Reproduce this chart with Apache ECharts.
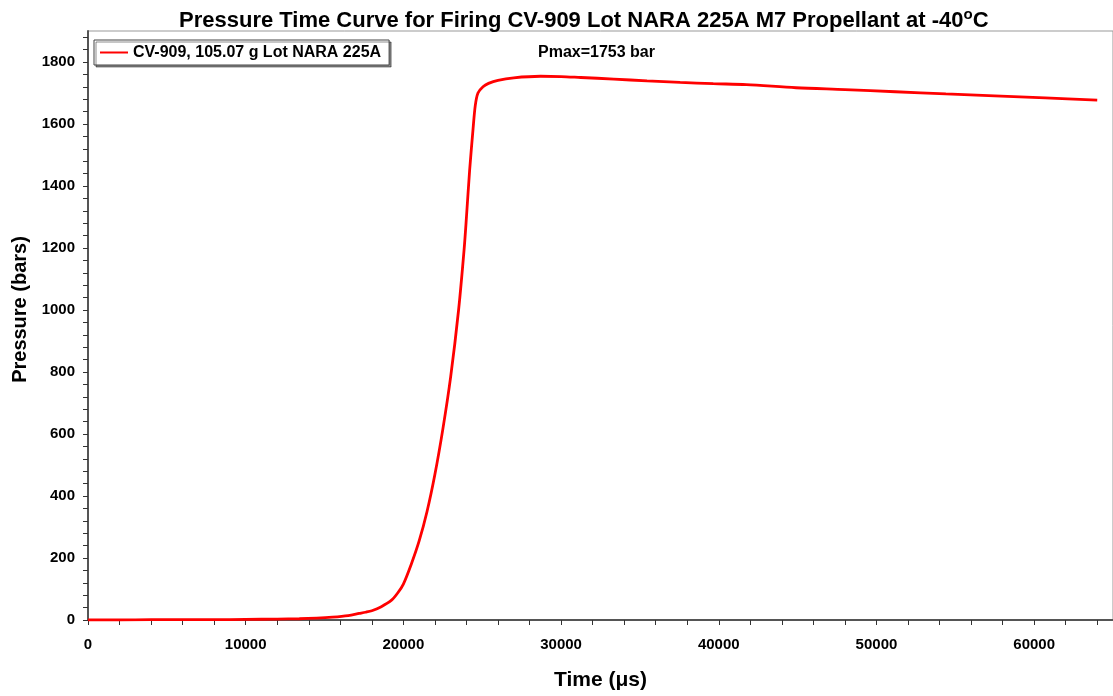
<!DOCTYPE html>
<html>
<head>
<meta charset="utf-8">
<script src="https://cdn.jsdelivr.net/npm/echarts@6/dist/echarts.min.js"></script>
<style>
html,body{margin:0;padding:0;background:#fff;}
#main{width:1113px;height:696px;}
</style>
</head>
<body>
<div id="main"></div>
<script>
// Data
var timeUs = [0, 2000, 4000, 6000, 8000, 10000, 12000, 13400, 14500, 15500, 16500, 17200, 17600, 18000, 18600, 19250, 19650, 20000, 20500, 21000, 21500, 22000, 22500, 23000, 23500, 23850, 24000, 24200, 24420, 24560, 24730, 25050, 25400, 26000, 27000, 28700, 30000, 31250, 33350, 35450, 37550, 39650, 41750, 44900, 48000, 51200, 54400, 57500, 60700, 64000];
var pressureBar = [0, 0, 1, 1, 1, 2, 3, 4, 6, 9, 14, 21, 25, 30, 43, 64, 88, 116, 180, 255, 350, 470, 615, 785, 1000, 1195, 1300, 1450, 1585, 1660, 1700, 1720, 1731, 1741, 1749, 1754, 1753, 1750, 1745, 1739, 1734, 1730, 1727, 1717, 1711, 1704, 1697, 1691, 1684, 1677];
var xMajorStep = 10000;
var yMajorStep = 200;
var seriesName = 'CV-909, 105.07 g Lot NARA 225A';
var annotationText = 'Pmax=1753 bar';

var pts = timeUs.map(function (t, i) { return [t, pressureBar[i]]; });
var chart = echarts.init(document.getElementById('main'));
var FONT = 'Liberation Sans, Arial, sans-serif';
chart.setOption({
  animation: false,
  backgroundColor: '#fff',
  title: {
    text: 'Pressure Time Curve for Firing CV-909 Lot NARA 225A M7 Propellant at -40{sup|o}C',
    left: 174, top: 2,
    textStyle: {
      fontFamily: FONT, fontWeight: 'bold', fontSize: 22, color: '#000', lineHeight: 28,
      rich: { sup: { fontFamily: FONT, fontWeight: 'bold', fontSize: 15, color: '#000', verticalAlign: 'top', lineHeight: 15 } }
    }
  },
  legend: {
    left: 94, top: 40, orient: 'vertical',
    padding: [4, 8, 4, 6],
    itemWidth: 28, itemHeight: 2, icon: 'rect',
    backgroundColor: '#fff',
    borderColor: '#444', borderWidth: 1,
    shadowColor: 'rgba(0,0,0,0.45)', shadowOffsetX: 2, shadowOffsetY: 2, shadowBlur: 0,
    textStyle: { fontFamily: FONT, fontWeight: 'bold', fontSize: 16, lineHeight: 17, color: '#000' },
    data: [seriesName]
  },
  grid: { left: 88, right: -6, top: 31, bottom: 75, show: true, borderColor: '#999', borderWidth: 1 },
  xAxis: {
    type: 'value', min: 0, max: 65000, interval: 2000,
    name: 'Time (μs)', nameLocation: 'middle', nameGap: 50,
    nameTextStyle: { fontFamily: FONT, fontWeight: 'bold', fontSize: 21, color: '#000' },
    axisLine: { show: true, lineStyle: { color: '#555', width: 2 } },
    axisTick: { show: true, inside: false, length: 5, lineStyle: { color: '#333', width: 1 } },
    axisLabel: {
      margin: 17, fontFamily: FONT, fontWeight: 'bold', fontSize: 15, color: '#000',
      showMaxLabel: false,
      formatter: function (v) { return v % xMajorStep === 0 ? String(v) : ''; }
    },
    splitLine: { show: false }
  },
  yAxis: {
    type: 'value', min: 0, max: 1900, interval: 40,
    name: 'Pressure (bars)', nameLocation: 'middle', nameGap: 58, nameRotate: 90,
    nameTextStyle: { fontFamily: FONT, fontWeight: 'bold', fontSize: 20, color: '#000', padding: [0, 0, 0, 32] },
    axisLine: { show: true, lineStyle: { color: '#555', width: 2 } },
    axisTick: { show: true, inside: false, length: 5, lineStyle: { color: '#333', width: 1 } },
    axisLabel: {
      margin: 13, fontFamily: FONT, fontWeight: 'bold', fontSize: 15, color: '#000',
      showMaxLabel: false,
      formatter: function (v) { return v % yMajorStep === 0 ? String(v) : ''; }
    },
    splitLine: { show: false }
  },
  graphic: [{
    type: 'text', left: 538, top: 45,
    style: { text: annotationText, fontFamily: FONT, fontWeight: 'bold', fontSize: 16, fill: '#000' }
  }],
  series: [{
    name: seriesName, type: 'line', data: pts, symbol: 'none', showSymbol: false,
    smooth: 0.3,
    lineStyle: { color: '#ff0000', width: 2.8 },
    itemStyle: { color: '#ff0000' }
  }]
});
</script>
</body>
</html>
